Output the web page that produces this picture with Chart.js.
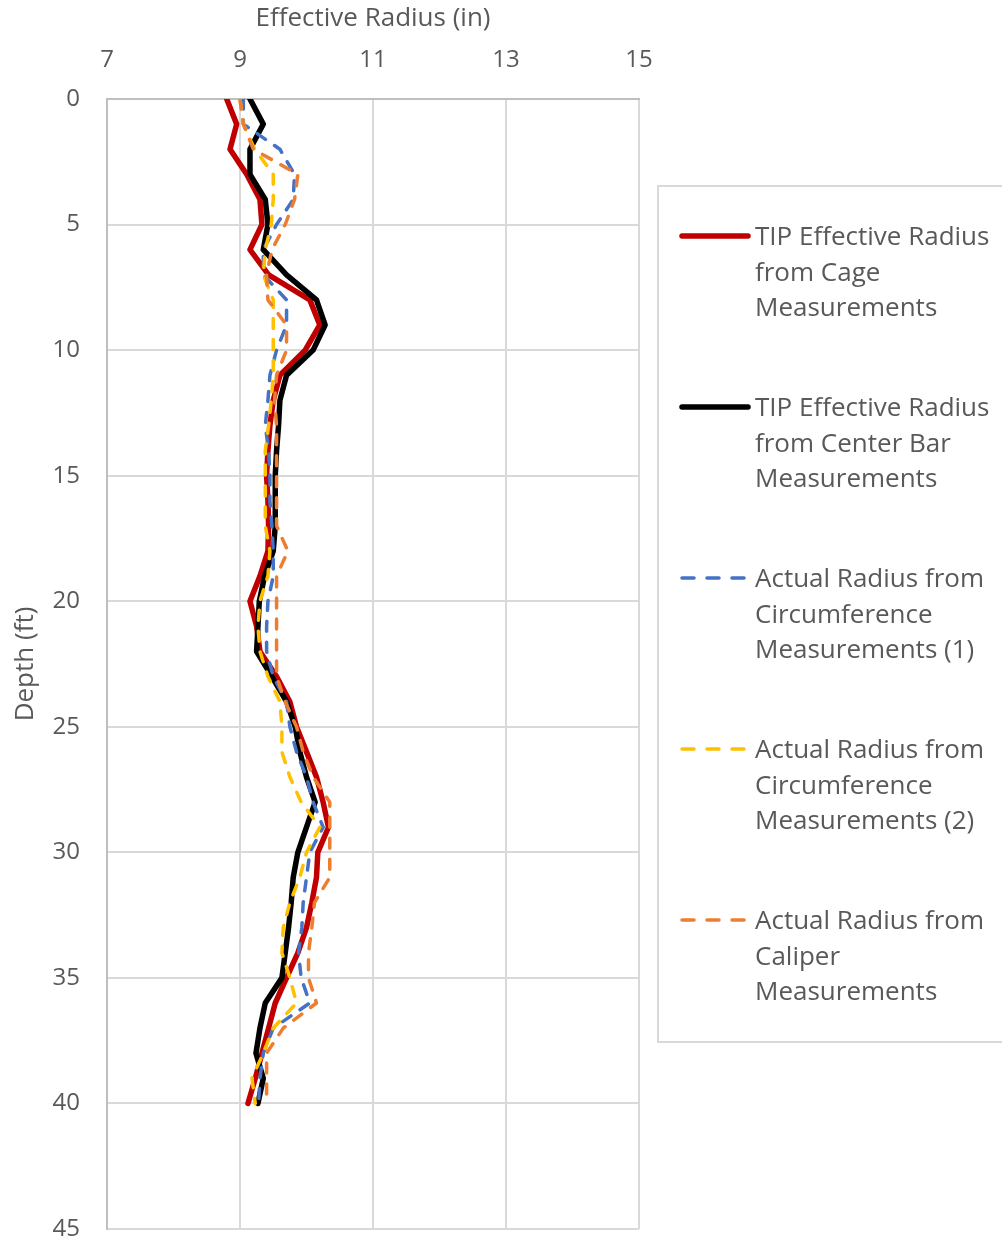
<!DOCTYPE html>
<html>
<head>
<meta charset="utf-8">
<script src="https://cdn.jsdelivr.net/npm/chart.js@4.4.1/dist/chart.umd.min.js"></script>
<style>
  html, body { margin: 0; padding: 0; background: #fff; }
  #wrap { position: relative; width: 1002px; height: 1245px; font-family: "Open Sans", sans-serif; }
  #myChart { position: absolute; left: 0; top: 0; }
  #legend { position: absolute; left: 657px; top: 185px; width: 360px; height: 858px;
            border: 2px solid #d9d9d9; box-sizing: border-box; }
  .item { position: absolute; left: 19px; }
  .item svg { position: absolute; left: 0; top: 0; }
  .item .txt { position: absolute; left: 77px; top: 0; white-space: nowrap;
               font-size: 26px; line-height: 35.5px; color: #595959; }
</style>
</head>
<body>
<div id="wrap">
  <canvas id="myChart" width="1002" height="1245"></canvas>
  <div id="legend"></div>
</div>
<script>
// depth below top (ft)
const depths = [0, 1, 2, 3, 4, 5, 6, 7, 8, 9, 10, 11, 12, 13, 14, 15, 16, 17, 18, 19, 20,
                21, 22, 23, 24, 25, 26, 27, 28, 29, 30, 31, 32, 33, 34, 35, 36, 37, 38, 39, 40];

// radius (in) at each depth
const cageRadius = [8.8, 8.95, 8.85, 9.1, 9.3, 9.33, 9.15, 9.43, 10.05, 10.2, 9.98, 9.6, 9.5, 9.45, 9.42, 9.4, 9.42, 9.43, 9.42, 9.3, 9.15,
                    9.25, 9.3, 9.55, 9.75, 9.85, 10.0, 10.15, 10.25, 10.33, 10.17, 10.15, 10.08, 10.0, 9.87, 9.7, 9.53, 9.43, 9.33, 9.23, 9.12];
const centerBarRadius = [9.15, 9.35, 9.15, 9.15, 9.38, 9.42, 9.35, 9.7, 10.15, 10.28, 10.1, 9.7, 9.6, 9.58, 9.55, 9.53, 9.53, 9.53, 9.5, 9.37, 9.29,
                         9.27, 9.25, 9.48, 9.7, 9.83, 9.9, 10.0, 10.13, 10.0, 9.87, 9.8, 9.77, 9.73, 9.68, 9.63, 9.38, 9.3, 9.24, 9.35, 9.27];
const circ1Radius = [9.05, 9.05, 9.6, 9.82, 9.8, 9.55, 9.35, 9.35, 9.7, 9.7, 9.55, 9.45, 9.42, 9.38, 9.43, 9.45, 9.45, 9.48, 9.5, 9.5, 9.42,
                     9.4, 9.4, 9.5, 9.7, 9.75, 9.85, 10.0, 10.1, 10.25, 10.05, 10.0, 9.95, 9.93, 9.88, 9.92, 10.05, 9.5, 9.35, 9.3, 9.28];
const circ2Radius = [9.0, 9.05, 9.22, 9.5, 9.5, 9.47, 9.38, 9.35, 9.5, 9.5, 9.5, 9.5, 9.47, 9.43, 9.38, 9.38, 9.38, 9.38, 9.45, 9.42, 9.3,
                     9.27, 9.3, 9.42, 9.6, 9.63, 9.63, 9.75, 9.92, 10.2, 10.0, 9.9, 9.75, 9.65, 9.63, 9.75, 9.85, 9.5, 9.35, 9.18, 9.23];
const caliperRadius = [9.0, 9.05, 9.2, 9.87, 9.82, 9.68, 9.48, 9.4, 9.42, 9.7, 9.7, 9.55, 9.52, 9.55, 9.55, 9.55, 9.55, 9.55, 9.72, 9.55, 9.55,
                       9.55, 9.55, 9.55, 9.68, 9.85, 9.95, 10.1, 10.35, 10.35, 10.35, 10.35, 10.12, 10.08, 10.03, 10.03, 10.15, 9.65, 9.4, 9.4, 9.4];

const seriesLabels = [
  ["TIP Effective Radius", "from Cage", "Measurements"],
  ["TIP Effective Radius", "from Center Bar", "Measurements"],
  ["Actual Radius from", "Circumference", "Measurements (1)"],
  ["Actual Radius from", "Circumference", "Measurements (2)"],
  ["Actual Radius from", "Caliper", "Measurements"]
];
const seriesValues = [cageRadius, centerBarRadius, circ1Radius, circ2Radius, caliperRadius];
const seriesColors = ["#c00000", "#000000", "#4472c4", "#ffc000", "#ed7d31"];
const seriesDashed = [false, false, true, true, true];

const xTicks = [7, 9, 11, 13, 15];
const yTicks = [0, 5, 10, 15, 20, 25, 30, 35, 40, 45];

const FONT = "'Open Sans', sans-serif";
const TEXT = "#595959";

const datasets = seriesValues.map((vals, i) => ({
  label: seriesLabels[i].join(" "),
  data: vals.map((v, k) => ({ x: v, y: depths[k] })),
  showLine: true,
  borderColor: seriesColors[i],
  backgroundColor: seriesColors[i],
  borderWidth: seriesDashed[i] ? 3.5 : 5.5,
  borderDash: seriesDashed[i] ? [10, 11] : [],
  borderCapStyle: "round",
  borderJoinStyle: "round",
  pointRadius: 0,
  tension: 0,
  order: 5 - i
}));

const ctx = document.getElementById("myChart");
const myChart = new Chart(ctx, {
  type: "scatter",
  data: { datasets: datasets },
  options: {
    responsive: false,
    animation: false,
    layout: { padding: { left: 0, top: 0, right: 363, bottom: 16 } },
    plugins: { legend: { display: false }, tooltip: { enabled: false } },
    scales: {
      x: {
        type: "linear",
        position: "top",
        min: xTicks[0],
        max: xTicks[xTicks.length - 1],
        afterBuildTicks: s => { s.ticks = xTicks.map(v => ({ value: v })); },
        afterFit: s => { s.height = 99; s.paddingLeft = 0; s.paddingRight = 0; },
        ticks: { color: TEXT, font: { family: FONT, size: 24 }, padding: 24 },
        grid: { color: "#d9d9d9", lineWidth: 2, drawTicks: false },
        border: { color: "#bfbfbf", width: 2 },
        title: { display: true, text: "Effective Radius (in)", color: TEXT,
                 font: { family: FONT, size: 26 }, padding: { top: 3, bottom: 0 } }
      },
      y: {
        type: "linear",
        reverse: true,
        min: yTicks[0],
        max: yTicks[yTicks.length - 1],
        afterBuildTicks: s => { s.ticks = yTicks.map(v => ({ value: v })); },
        afterFit: s => { s.width = 107; s.paddingTop = 0; s.paddingBottom = 0; },
        ticks: { color: TEXT, font: { family: FONT, size: 24 }, padding: 27 },
        grid: { color: "#d9d9d9", lineWidth: 2, drawTicks: false },
        border: { color: "#bfbfbf", width: 2 },
        title: { display: true, text: "Depth (ft)", color: TEXT,
                 font: { family: FONT, size: 26 }, padding: { top: 10, bottom: 0 } }
      }
    }
  }
});

// html legend built from the chart datasets
const legendEl = document.getElementById("legend");
const order = [0, 1, 2, 3, 4];
order.forEach((i, n) => {
  const ds = myChart.data.datasets[i];
  const item = document.createElement("div");
  item.className = "item";
  item.style.top = (31 + n * 171) + "px";
  const dash = seriesDashed[i] ? 'stroke-dasharray="12 13"' : "";
  const w = seriesDashed[i] ? 3.5 : 5.5;
  item.innerHTML =
    '<svg width="76" height="36"><line x1="4" y1="18" x2="70" y2="18" stroke="' + ds.borderColor +
    '" stroke-width="' + w + '" stroke-linecap="round" ' + dash + '/></svg>' +
    '<div class="txt">' + seriesLabels[i].join("<br>") + '</div>';
  legendEl.appendChild(item);
});
</script>
</body>
</html>
